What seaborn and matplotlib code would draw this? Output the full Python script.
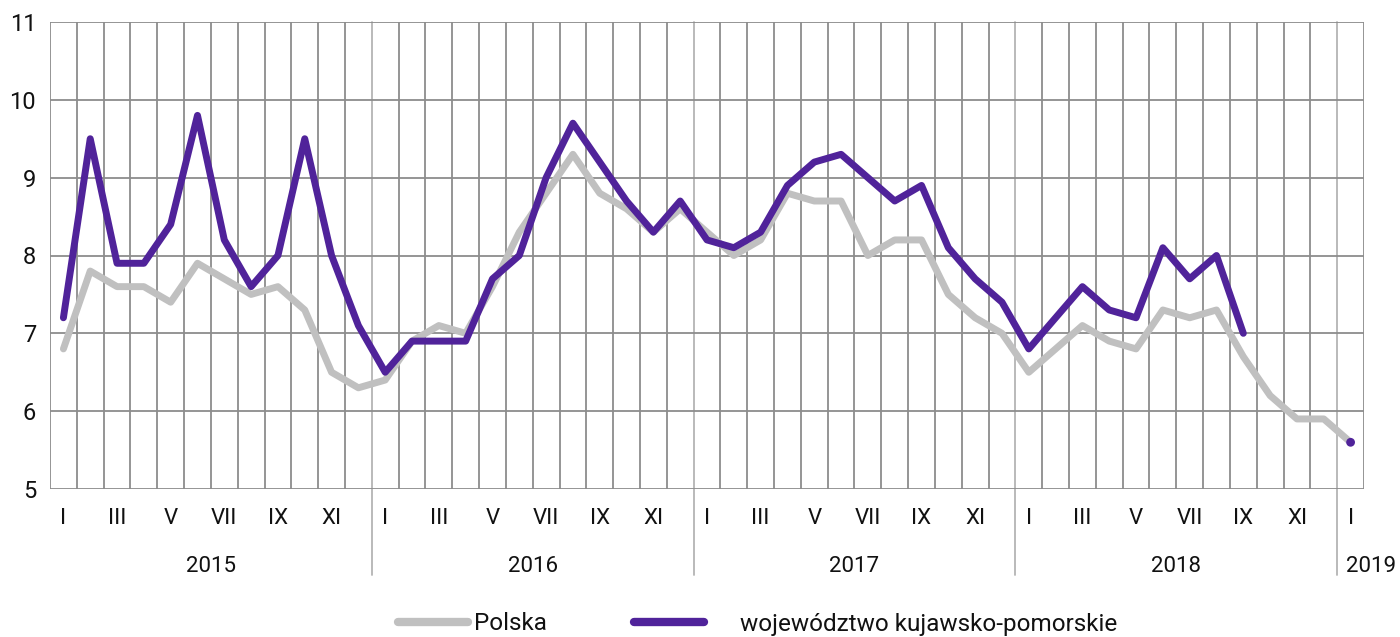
import numpy as np
import pandas as pd
import matplotlib
matplotlib.use('Agg')
import matplotlib.pyplot as plt
import matplotlib.transforms as mtransforms
from matplotlib.lines import Line2D
import seaborn as sns

# ---------------- data ----------------
months = ['I', 'II', 'III', 'IV', 'V', 'VI', 'VII', 'VIII', 'IX', 'X', 'XI', 'XII']
years = ['2015', '2016', '2017', '2018', '2019']
series_names = ['Polska', 'województwo kujawsko-pomorskie']

polska = [
    6.8, 7.8, 7.6, 7.6, 7.4, 7.9, 7.7, 7.5, 7.6, 7.3, 6.5, 6.3,   # 2015
    6.4, 6.9, 7.1, 7.0, 7.6, 8.3, 8.8, 9.3, 8.8, 8.6, 8.3, 8.6,   # 2016
    8.3, 8.0, 8.2, 8.8, 8.7, 8.7, 8.0, 8.2, 8.2, 7.5, 7.2, 7.0,   # 2017
    6.5, 6.8, 7.1, 6.9, 6.8, 7.3, 7.2, 7.3, 6.7, 6.2, 5.9, 5.9,   # 2018
    5.6,                                                          # 2019
]
kujawsko = [
    7.2, 9.5, 7.9, 7.9, 8.4, 9.8, 8.2, 7.6, 8.0, 9.5, 8.0, 7.1,   # 2015
    6.5, 6.9, 6.9, 6.9, 7.7, 8.0, 9.0, 9.7, 9.2, 8.7, 8.3, 8.7,   # 2016
    8.2, 8.1, 8.3, 8.9, 9.2, 9.3, 9.0, 8.7, 8.9, 8.1, 7.7, 7.4,   # 2017
    6.8, 7.2, 7.6, 7.3, 7.2, 8.1, 7.7, 8.0, 7.0, np.nan, np.nan, np.nan,  # 2018
    5.6,                                                          # 2019
]

colors = {'Polska': '#c0c0c0', 'województwo kujawsko-pomorskie': '#50239a'}

# ---------------- frame ----------------
n = len(polska)
idx = np.arange(n)
month_labels = [months[i % 12] for i in range(n)]

rows = []
for name, vals in zip(series_names, [polska, kujawsko]):
    seg = 0
    for i, v in enumerate(vals):
        if np.isnan(v):
            seg += 1
            continue
        rows.append({'idx': i, 'value': v, 'series': name, 'seg': f'{name}-{seg}'})
df = pd.DataFrame(rows)
seg_sizes = df.groupby('seg')['idx'].transform('size')

sns.set_style('white')
plt.rcParams['font.family'] = ['Roboto', 'DejaVu Sans']

fig = plt.figure(figsize=(14, 6.37), dpi=100)
ax = fig.add_axes([50 / 1400, 1 - 489 / 637, (1364 - 50) / 1400, (489 - 22) / 637])

sns.lineplot(data=df[seg_sizes > 1], x='idx', y='value', hue='series',
             hue_order=series_names, units='seg', estimator=None,
             palette=colors, lw=5, ax=ax, legend=False)
iso = df[seg_sizes == 1]
sns.scatterplot(data=iso, x='idx', y='value', hue='series', hue_order=series_names,
                palette=colors, s=40, edgecolor='none', ax=ax, legend=False, zorder=5)

# ---------------- axes ----------------
grid_c = '#8c8c8c'
light_c = '#b4b4b4'
ax.set_xlim(-0.5, n - 0.5)
ax.set_ylim(5, 11)
ax.set_yticks(range(5, 12))
for s in ax.spines.values():
    s.set_visible(False)

year_bounds = [i - 0.5 for i in range(12, n, 12)]
minor = [i - 0.5 for i in range(n + 1) if i % 12 != 0 or i == 0 or i == n]
ax.set_xticks(minor, minor=True)
ax.set_xticks(idx[::2])
ax.set_xticklabels(month_labels[::2])

ax.grid(False)
ax.xaxis.grid(True, which='minor', color=grid_c, lw=1.3)
ax.yaxis.grid(True, which='major', color=grid_c, lw=1.3)
ax.set_axisbelow(True)

ax.tick_params(axis='x', which='minor', length=7, width=1.3, color=grid_c, direction='out')
ax.tick_params(axis='x', which='major', length=0, pad=14, labelsize=16, labelcolor='#111111')
ax.tick_params(axis='y', which='major', length=7, width=1.3, color=grid_c, direction='out',
               labelsize=17, pad=3, labelcolor='#111111')
ax.set_xlabel('')
ax.set_ylabel('')

trans = mtransforms.blended_transform_factory(ax.transData, ax.transAxes)
for b in year_bounds:
    ax.plot([b, b], [1, -0.184], transform=trans, color=light_c, lw=1.3,
            clip_on=False, zorder=0.5)

year_centres = [5.5, 17.5, 29.5, 41.5, 48.75]
for yc, yl in zip(year_centres, years):
    ax.text(yc, -0.165, yl, transform=trans, ha='center', va='center',
            fontsize=16, color='#111111')

# legend: two entries placed like the reference
leg_y = 1 - 624 / 637
leg1 = fig.legend([Line2D([], [], color=colors[series_names[0]], lw=6)], [series_names[0]],
                  loc='center left', bbox_to_anchor=(376 / 1400, leg_y), frameon=False,
                  fontsize=17.5, handlelength=2.9, handletextpad=0.25,
                  labelcolor='#111111')
leg2 = fig.legend([Line2D([], [], color=colors[series_names[1]], lw=6)], [series_names[1]],
                  loc='center left', bbox_to_anchor=(612 / 1400, leg_y), frameon=False,
                  fontsize=17.5, handlelength=2.9, handletextpad=1.45,
                  labelcolor='#111111')

fig.savefig('out.png', dpi=100)
